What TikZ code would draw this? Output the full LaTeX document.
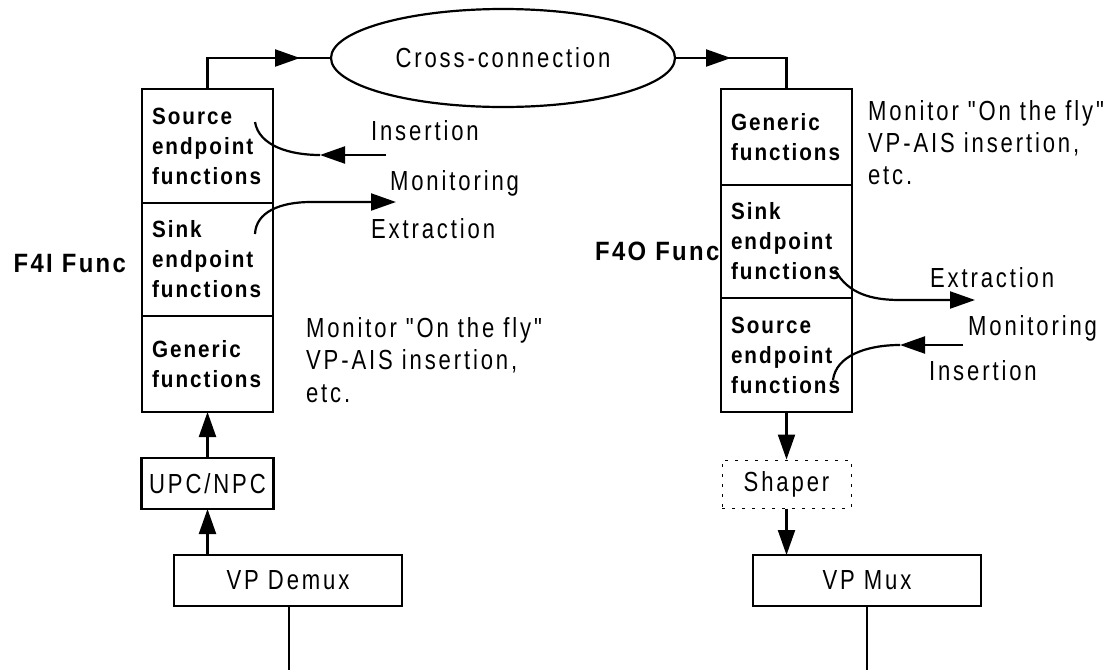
\documentclass[tikz,border=0pt]{standalone}
\usepackage{fontspec}
\setmainfont{Liberation Sans}
% narrow, letter-spaced faces for the labels and the block texts
\newfontfamily\regfont[FakeStretch=0.8,LetterSpace=10.4]{Liberation Sans}
\newfontfamily\boxfont[FakeStretch=0.88,LetterSpace=8.5]{Liberation Sans}
\newfontfamily\funcfont[FakeStretch=0.9,LetterSpace=9]{Liberation Sans}
\usetikzlibrary{arrows.meta,shapes.geometric}
\begin{document}
\begin{tikzpicture}[x=1pt,y=-1pt,
  line width=2.2pt,
  reg/.style={font=\regfont\fontsize{27.6}{32.5}\selectfont, inner sep=0pt},
  lbl/.style={reg, anchor=base west},
  cell/.style={draw, anchor=north west, outer sep=0pt, text width=111pt,
    align=left, inner xsep=10pt, inner ysep=0pt,
    font=\boxfont\bfseries\fontsize{23.5}{30}\selectfont},
  func/.style={anchor=base west, inner sep=0pt,
    font=\funcfont\bfseries\fontsize{26.5}{30}\selectfont},
  plainbox/.style={draw, reg, outer sep=0pt, minimum height=51pt},
  tri/.style={-{Triangle[length=25pt,width=17pt]}},
]
\useasboundingbox (0,0) rectangle (1116,670);

% F4 flow, input side
\node[cell, minimum height=114pt] (Lsrc) at (142,89) {Source\\endpoint\\functions};
\node[cell, minimum height=113pt] (Lsnk) at (142,203) {Sink\\endpoint\\functions};
\node[cell, minimum height=96pt]  (Lgen) at (142,316) {Generic\\functions};

% F4 flow, output side
\node[cell, minimum height=96pt]  (Rgen) at (721,89)  {Generic\\functions};
\node[cell, minimum height=113pt] (Rsnk) at (721,185) {Sink\\endpoint\\functions};
\node[cell, minimum height=114pt] (Rsrc) at (721,298) {Source\\endpoint\\functions};

\node[func] (f4i) at (12.5,272) {F4I Func};
\node[func] (f4o) at (594,260) {F4O Func};

% cross-connection
\node[draw, ellipse, reg, outer sep=0pt, minimum width=344pt, minimum height=98pt]
  (cc) at (503,58) {Cross-connection};

\coordinate (tipA) at (300,58);
\coordinate (tipB) at (731,58);
\draw (Lsrc.north) |- (cc.west);
\draw[tri] (Lsrc.north |- cc.west) -- (tipA);
\draw (cc.east) -| (Rgen.north);
\draw[tri] (cc.east) -- (tipB);

% lower blocks
\node[plainbox, minimum width=132pt] (upc) at (207.5,483.5) {UPC/NPC};
\node[plainbox, minimum width=228pt] (dmx) at (288,580.5) {VP Demux};
\node[draw, reg, line width=1pt, dash pattern=on 3pt off 7pt,
  minimum width=129pt, minimum height=48pt] (shp) at (786.5,484) {Shaper};
\node[plainbox, minimum width=228pt] (mux) at (867,580.5) {VP Mux};

\draw[tri] (upc.north) -- (Lgen.south);
\draw[tri] (dmx.north -| upc.north) -- (upc.south);
\draw[tri] (Rsrc.south) -- (shp.north);
\draw[tri] (shp.south) -- (mux.north -| shp.south);

\coordinate (inL) at (289,670);
\coordinate (outR) at (867,670);
\draw (inL |- dmx.south) -- (inL);
\draw (outR |- mux.south) -- (outR);

% OAM labels, input side
\node[lbl] (insL) at (370,140) {Insertion};
\node[lbl] (monL) at (389,190) {Monitoring};
\node[lbl] (extL) at (370,238) {Extraction};
\node[lbl] (genL1) at (305,337) {Monitor "On the fly"};
\node[lbl] (genL2) at (305,369.5) {VP-AIS insertion,};
\node[lbl] (genL3) at (305,402) {etc.};

% OAM labels, output side
\node[lbl] (genR1) at (867,120) {Monitor "On the fly"};
\node[lbl] (genR2) at (867,152) {VP-AIS insertion,};
\node[lbl] (genR3) at (867,184) {etc.};
\node[lbl] (extR) at (929,287) {Extraction};
\node[lbl] (monR) at (967,335) {Monitoring};
\node[lbl] (insR) at (928,380) {Insertion};

% insertion / extraction arrows, input side
\coordinate (li0) at (386,155);
\coordinate (li1) at (320,155);
\coordinate (li2) at (255,122);
\draw[tri] (li0) -- (li1);
\draw (li1) .. controls (290,155) and (259,146) .. (li2);

\coordinate (le0) at (255,234);
\coordinate (le1) at (311,202);
\coordinate (le2) at (396,202);
\draw[tri] (le0) .. controls (256,212) and (280,202) .. (le1) -- (le2);

% insertion / extraction arrows, output side
\coordinate (re0) at (835,270);
\coordinate (re1) at (900,300);
\coordinate (re2) at (975,300);
\draw[tri] (re0) .. controls (848,294) and (872,300) .. (re1) -- (re2);

\coordinate (ri0) at (963,345);
\coordinate (ri1) at (900,345);
\coordinate (ri2) at (833,380);
\draw[tri] (ri0) -- (ri1);
\draw (ri1) .. controls (866,345) and (836,356) .. (ri2);
\end{tikzpicture}
\end{document}
